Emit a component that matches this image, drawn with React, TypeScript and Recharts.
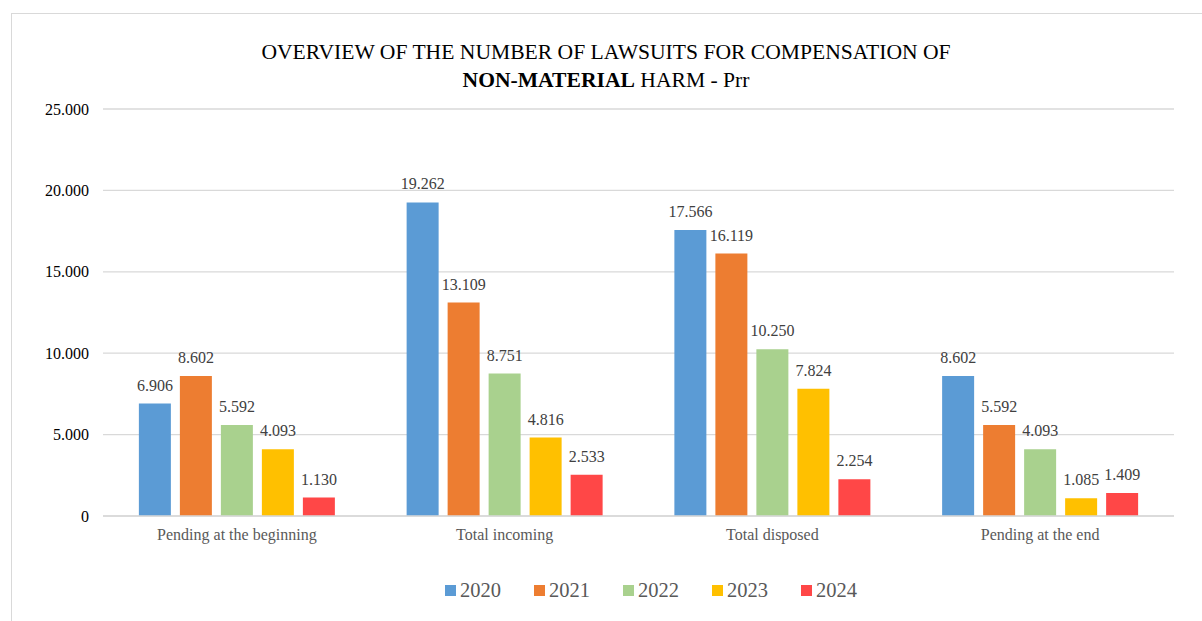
import React from "react";
import { BarChart, Bar, XAxis, YAxis, CartesianGrid, LabelList } from "recharts";

const categories = ["Pending at the beginning", "Total incoming", "Total disposed", "Pending at the end"];
const years = ["2020", "2021", "2022", "2023", "2024"];
const colors = ["#5B9BD5", "#ED7D31", "#A9D18E", "#FFC000", "#FF4747"];
const v2020 = [6906, 19262, 17566, 8602];
const v2021 = [8602, 13109, 16119, 5592];
const v2022 = [5592, 8751, 10250, 4093];
const v2023 = [4093, 4816, 7824, 1085];
const v2024 = [1130, 2533, 2254, 1409];
const yTicks = [0, 5000, 10000, 15000, 20000, 25000];

const seriesValues = [v2020, v2021, v2022, v2023, v2024];
const data = categories.map((c, i) => {
  const row: Record<string, string | number> = { name: c };
  years.forEach((y, k) => {
    row[y] = seriesValues[k][i];
  });
  return row;
});

const fmt = (v: number) => {
  if (v === 0) return "0";
  return v.toLocaleString("de-DE");
};

const FONT = "'Liberation Serif', 'Times New Roman', serif";

export default function App() {
  return (
    <div style={{ position: "absolute", left: 0, top: 0, width: 1202, height: 621, background: "#fff", overflow: "hidden", fontFamily: FONT }}>
      <div
        style={{
          position: "absolute",
          left: 11,
          top: 13,
          width: 1300,
          height: 700,
          border: "1px solid #D9D9D9",
          boxSizing: "border-box",
        }}
      />
      <div
        style={{
          position: "absolute",
          left: 0,
          top: 38,
          width: 1212,
          textAlign: "center",
          fontFamily: FONT,
          fontSize: 21.6,
          lineHeight: "28px",
          color: "#000",
        }}
      >
        <div>OVERVIEW OF THE NUMBER OF LAWSUITS FOR COMPENSATION OF</div>
        <div>
          <b>NON-MATERIAL</b> HARM - Prr
        </div>
      </div>
      <div style={{ position: "absolute", left: 0, top: 0 }}>
        <BarChart
          width={1202}
          height={621}
          data={data}
          margin={{ top: 109, right: 28, left: 43, bottom: 75 }}
          barGap={9}
          barCategoryGap="13.4%"
        >
          <CartesianGrid vertical={false} stroke="#D9D9D9" strokeWidth={1.3} />
          <XAxis
            dataKey="name"
            axisLine={{ stroke: "#D9D9D9", strokeWidth: 1.3 }}
            tickLine={false}
            tickMargin={7}
            height={30}
            tick={{ fill: "#595959", fontSize: 16, fontFamily: FONT }}
          />
          <YAxis
            width={60}
            domain={[0, 25000]}
            ticks={yTicks}
            axisLine={false}
            tickLine={false}
            tickMargin={8}
            tickFormatter={fmt}
            tick={{ fill: "#000", fontSize: 16, fontFamily: FONT }}
          />
          {years.map((y, i) => (
            <Bar key={y} dataKey={y} fill={colors[i]} isAnimationActive={false}>
              <LabelList
                dataKey={y}
                position="top"
                offset={13}
                formatter={(v: number) => fmt(v)}
                fill="#404040"
                fontSize={16}
                fontFamily={FONT}
              />
            </Bar>
          ))}
        </BarChart>
      </div>
      <div
        style={{
          position: "absolute",
          left: 445,
          top: 576,
          height: 28,
          display: "flex",
          alignItems: "center",
          fontFamily: FONT,
          fontSize: 20.5,
          color: "#595959",
        }}
      >
        {years.map((y, i) => (
          <div key={y} style={{ display: "flex", alignItems: "center", marginRight: i < years.length - 1 ? 33 : 0 }}>
            <span style={{ display: "inline-block", width: 11, height: 11, background: colors[i], marginRight: 4 }} />
            <span>{y}</span>
          </div>
        ))}
      </div>
    </div>
  );
}
